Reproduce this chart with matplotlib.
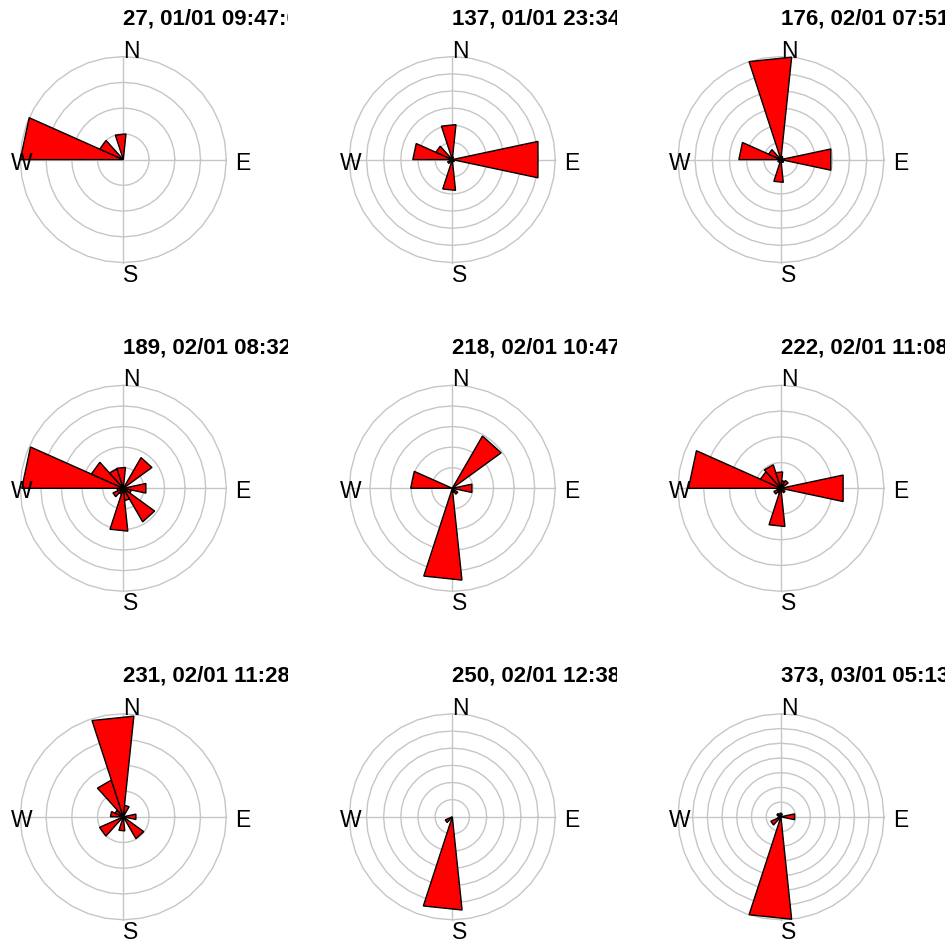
import numpy as np
import matplotlib
matplotlib.use("Agg")
import matplotlib.pyplot as plt

plt.rcParams['font.family'] = ['Liberation Sans', 'DejaVu Sans']

# 15 direction sectors, 24 degrees wide; centre angle in degrees clockwise from north
sector_dirs = np.arange(18, 360, 24)
sector_width = 24.0

titles = [
    "27, 01/01 09:47:00", "137, 01/01 23:34:00", "176, 02/01 07:51:00",
    "189, 02/01 08:32:00", "218, 02/01 10:47:00", "222, 02/01 11:08:00",
    "231, 02/01 11:28:00", "250, 02/01 12:38:00", "373, 03/01 05:13:00",
]
n_rings = [4, 6, 6, 5, 5, 4, 4, 6, 7]

# frequency per sector, in ring units, same order as sector_dirs
freq_27 = [0, 0, 0, 0, 0, 0, 0, 0, 0, 0, 0, 4.0, 1.0, 0, 1.0]
freq_137 = [0.15, 0, 0, 5.1, 0, 0.15, 0, 1.8, 0.15, 0.3, 0, 2.3, 1.05, 0, 2.05]
freq_176 = [0.2, 0.15, 0, 2.97, 0, 0.2, 0, 1.33, 0.15, 0.2, 0, 2.45, 0.78, 0, 6.0]
freq_189 = [0, 1.72, 0, 1.12, 0.4, 1.88, 0.6, 2.09, 0.3, 0.55, 0.3, 4.93, 1.7, 1.0, 1.02]
freq_218 = [0, 2.93, 0, 0.97, 0, 0.33, 0.2, 4.48, 0, 0, 0, 2.02, 0, 0, 0]
freq_222 = [0.3, 0.35, 0, 2.47, 0, 0.2, 0, 1.49, 0.2, 0.3, 0.15, 3.59, 0.87, 0.96, 0.64]
freq_231 = [0.45, 0, 0, 0.5, 0, 0.98, 0, 0.55, 0, 1.01, 0, 0.5, 0.35, 1.5, 3.93]
freq_250 = [0, 0, 0, 0, 0, 0, 0, 5.46, 0, 0.45, 0, 0, 0, 0, 0]
freq_373 = [0.2, 0, 0, 0.95, 0, 0, 0, 7.0, 0, 0.75, 0.2, 0, 0.3, 0, 0.25]

freqs = [freq_27, freq_137, freq_176, freq_189, freq_218,
         freq_222, freq_231, freq_250, freq_373]

W, H = 952, 947
col_x = [123.3, 452.3, 780.9]
row_y = [159.6, 488.3, 816.8]
R = 103.0        # outer ring radius, px
half = 164.5     # half size of each panel box, px

fig = plt.figure(figsize=(W / 100, H / 100), dpi=100)

grid_col = '#c6c6c6'
ring_ang = np.radians(np.arange(0, 361, 10))

for i in range(9):
    cx = col_x[i % 3]
    cy = row_y[i // 3]
    ax = fig.add_axes([(cx - half) / W, (H - cy - half) / H, 2 * half / W, 2 * half / H])
    lim = half / R
    ax.set_xlim(-lim, lim)
    ax.set_ylim(-lim, lim)
    ax.axis('off')

    nr = n_rings[i]
    # rings and spokes
    for k in range(1, nr + 1):
        rr = k / nr
        ax.plot(rr * np.cos(ring_ang), rr * np.sin(ring_ang), color=grid_col, lw=1.0, zorder=1)
    ax.plot([-1, 1], [0, 0], color=grid_col, lw=1.0, zorder=1)
    ax.plot([0, 0], [-1, 1], color=grid_col, lw=1.0, zorder=1)

    # sectors drawn as triangles from the centre
    for d, f in zip(sector_dirs, freqs[i]):
        if f <= 0:
            continue
        L = f / nr
        a1 = np.radians(d - sector_width / 2)
        a2 = np.radians(d + sector_width / 2)
        ax.fill([0, L * np.sin(a1), L * np.sin(a2)], [0, L * np.cos(a1), L * np.cos(a2)],
                facecolor='#ff0000', edgecolor='black', lw=1.0, zorder=2)

    # compass labels
    rl = 112 / R
    dy = -3.5 / R
    for lab, (x, y) in zip("NESW", [(0, rl), (rl, 0), (0, -rl), (-rl, 0)]):
        ax.text(x, y + dy, lab, ha='left', va='center', fontsize=16.5, zorder=3, clip_on=False)

    # title starts at the rose centre and is cut at the panel edge
    ax.text(0, 140.5 / R, titles[i], ha='left', va='center', fontsize=16,
            fontweight='bold', clip_on=True, zorder=3)

fig.savefig('out.png', dpi=100)
